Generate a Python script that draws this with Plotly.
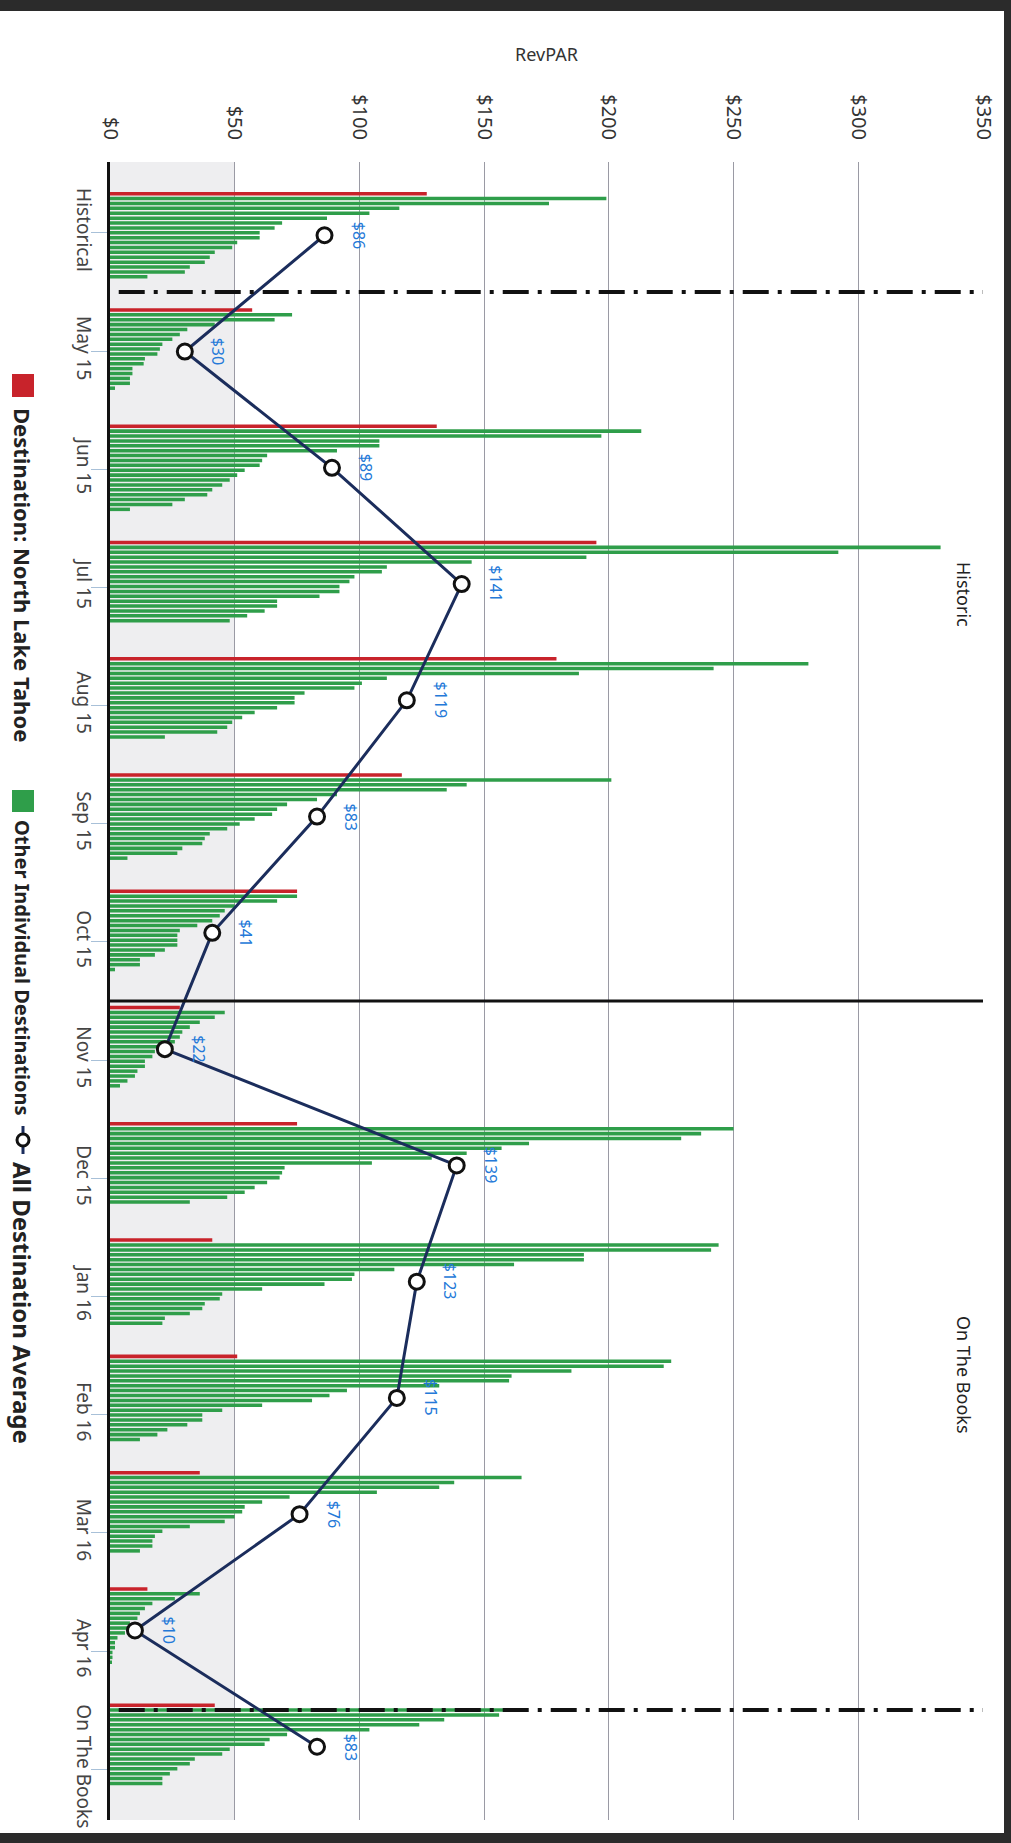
import plotly.graph_objects as go

# RevPAR by month, chart drawn rotated (value axis on top, months running down)
categories = ["Historical", "May 15", "Jun 15", "Jul 15", "Aug 15", "Sep 15", "Oct 15",
              "Nov 15", "Dec 15", "Jan 16", "Feb 16", "Mar 16", "Apr 16", "On The Books"]

north_lake_tahoe = [127, 57, 131, 195, 179, 117, 75, 28, 75, 41, 51, 36, 15, 42]

all_destination_avg = [86, 30, 89, 141, 119, 83, 41, 22, 139, 123, 115, 76, 10, 83]

# other individual destinations, largest first, one list per period
other_historical = [199, 176, 116, 104, 87, 69, 66, 60, 60, 51, 49, 42, 40, 38, 32, 30, 15]
other_may15 = [73, 66, 42, 31, 28, 25, 21, 20, 19, 14, 13.5, 9, 9, 8, 8, 2]
other_jun15 = [213, 197, 108, 108, 91, 63, 61, 60, 54, 51, 48, 45, 41, 39, 30, 25, 8]
other_jul15 = [333, 292, 191, 145, 111, 109, 98, 96, 92, 92, 84, 67, 67, 62, 55, 48]
other_aug15 = [280, 242, 188, 111, 101, 98, 78, 74, 74, 67, 58, 53, 49, 47, 43, 22]
other_sep15 = [201, 143, 135, 91, 83, 71, 67, 65, 58, 52, 47, 40, 38, 37, 29, 27, 7]
other_oct15 = [75, 67, 50, 46, 44, 41, 35, 28, 27, 27, 27, 22, 18, 12, 12, 2]
other_nov15 = [46, 42, 36, 32, 29, 28, 26, 22, 18, 17, 14, 14, 11, 10, 7, 4]
other_dec15 = [250, 237, 229, 168, 157, 143, 129, 105, 70, 69, 68, 63, 58, 54, 47, 32]
other_jan16 = [244, 241, 190, 190, 162, 114, 98, 97, 86, 61, 45, 44, 38, 37, 32, 22, 21]
other_feb16 = [225, 222, 185, 161, 160, 132, 95, 88, 81, 61, 45, 37, 37, 31, 23, 19, 12]
other_mar16 = [165, 138, 132, 107, 72, 61, 54, 53, 50, 46, 32, 21, 18, 17, 17, 12]
other_apr16 = [36, 26, 17, 14, 12, 11, 8, 7, 6, 3, 2, 2, 1, 1, 0.5]
other_otb = [158, 156, 134, 124, 104, 71, 64, 62, 48, 45, 34, 32, 27, 24, 21, 21]

other_groups = [other_historical, other_may15, other_jun15, other_jul15, other_aug15,
                other_sep15, other_oct15, other_nov15, other_dec15, other_jan16,
                other_feb16, other_mar16, other_apr16, other_otb]

value_ticks = [0, 50, 100, 150, 200, 250, 300, 350]

RED = "#c8232b"
GREEN = "#2f9e4a"
NAVY = "#1b2d5c"
LABEL_BLUE = "#2479d8"
FONT = "Noto Sans"

W, H = 1011, 1843
ML, MR, MT, MB = 110, 28, 162, 23
PW, PH = W - ML - MR, H - MT - MB


def px_x(px):
    return (px - ML) / PW


def px_y(py):
    return (H - MB - py) / PH


fig = go.Figure()

fig.add_trace(go.Bar(
    x=north_lake_tahoe, y=categories, orientation="h", yaxis="y2",
    marker=dict(color=RED, line=dict(width=0)), name="Destination: North Lake Tahoe",
))

n_slots = max(len(g) for g in other_groups)
for j in range(n_slots):
    fig.add_trace(go.Bar(
        x=[g[j] if j < len(g) else None for g in other_groups],
        y=categories, orientation="h", yaxis="y2",
        marker=dict(color=GREEN, line=dict(width=0)),
        name="Other Individual Destinations", showlegend=False,
    ))

fig.add_trace(go.Scatter(
    x=all_destination_avg, y=categories, yaxis="y2", mode="lines+markers",
    line=dict(color=NAVY, width=3),
    marker=dict(symbol="circle", size=15, color="white", line=dict(color="#111", width=3)),
    name="All Destination Average",
))

annotations = []
for cat, v in zip(categories, all_destination_avg):
    annotations.append(dict(
        x=v, y=cat, xref="x", yref="y2", text=f"${v}", showarrow=False,
        textangle=90, xshift=34, xanchor="center", yanchor="middle",
        font=dict(family=FONT, size=16, color=LABEL_BLUE),
    ))

annotations += [
    dict(x=px_x(964), y=px_y(594), xref="paper", yref="paper", text="Historic",
         showarrow=False, textangle=90, xanchor="center", yanchor="middle",
         font=dict(family=FONT, size=18, color="#222")),
    dict(x=px_x(964), y=px_y(1375), xref="paper", yref="paper", text="On The Books",
         showarrow=False, textangle=90, xanchor="center", yanchor="middle",
         font=dict(family=FONT, size=18, color="#222")),
]

# hand-built legend, rotated like the rest of the chart
legend_items = [
    ("Destination: North Lake Tahoe", 406, 22),
    ("Other Individual Destinations", 818, 20),
    ("All Destination Average", 1160, 24),
]
for text, top, size in legend_items:
    annotations.append(dict(
        x=px_x(23), y=px_y(top), xref="paper", yref="paper", text=f"<b>{text}</b>",
        showarrow=False, textangle=90, xanchor="center", yanchor="top",
        font=dict(family=FONT, size=size, color="#222"),
    ))

shapes = [
    # light band between $0 and $50
    dict(type="rect", xref="x", yref="paper", x0=0, x1=50, y0=0, y1=1,
         fillcolor="#eeeef0", line=dict(width=0), layer="below"),
    # period separators
    dict(type="line", xref="paper", yref="y", x0=0.01, x1=1, y0=0.5, y1=0.5,
         line=dict(color="#111", width=4, dash="26px,9px,4px,9px")),
    dict(type="line", xref="paper", yref="y", x0=0, x1=1, y0=6.5, y1=6.5,
         line=dict(color="#111", width=3)),
    dict(type="line", xref="paper", yref="y", x0=0.01, x1=1, y0=12.5, y1=12.5,
         line=dict(color="#111", width=4, dash="26px,9px,4px,9px")),
    # legend keys
    dict(type="rect", xref="paper", yref="paper", x0=px_x(12), x1=px_x(34),
         y0=px_y(374), y1=px_y(397), fillcolor=RED, line=dict(width=0)),
    dict(type="rect", xref="paper", yref="paper", x0=px_x(12), x1=px_x(34),
         y0=px_y(790), y1=px_y(812), fillcolor=GREEN, line=dict(width=0)),
    dict(type="line", xref="paper", yref="paper", x0=px_x(23), x1=px_x(23),
         y0=px_y(1126), y1=px_y(1154), line=dict(color=NAVY, width=3)),
    dict(type="circle", xref="paper", yref="paper", x0=px_x(17), x1=px_x(29),
         y0=px_y(1134), y1=px_y(1146), fillcolor="white", line=dict(color="#111", width=3)),
    # dark scan border
    dict(type="rect", xref="paper", yref="paper", x0=px_x(0), x1=px_x(W),
         y0=px_y(11), y1=px_y(0), fillcolor="#2b2b2b", line=dict(width=0)),
    dict(type="rect", xref="paper", yref="paper", x0=px_x(1004), x1=px_x(W),
         y0=px_y(H), y1=px_y(0), fillcolor="#2b2b2b", line=dict(width=0)),
    dict(type="rect", xref="paper", yref="paper", x0=px_x(0), x1=px_x(W),
         y0=px_y(H), y1=px_y(1833), fillcolor="#2b2b2b", line=dict(width=0)),
]

fig.update_layout(
    width=W, height=H, margin=dict(l=ML, r=MR, t=MT, b=MB),
    paper_bgcolor="white", plot_bgcolor="white",
    barmode="group", bargap=0.243, bargroupgap=0.28,
    showlegend=False,
    font=dict(family=FONT, color="#333"),
    xaxis=dict(
        side="top", range=[0, 350], tickvals=value_ticks,
        ticktext=[f"${v}" for v in value_ticks], tickangle=90,
        ticks="outside", ticklen=14, tickcolor="rgba(0,0,0,0)",
        tickfont=dict(family=FONT, size=20, color="#333"),
        showgrid=True, gridcolor="#9a9aa4", gridwidth=1, zeroline=False, showline=False,
        title=dict(text="RevPAR", standoff=27, font=dict(family=FONT, size=18, color="#333")),
    ),
    yaxis=dict(
        type="category", categoryarray=categories, categoryorder="array",
        range=[13.43, -0.60], tickangle=90,
        ticks="outside", ticklen=16, tickcolor="#a8c0d8", tickwidth=1,
        ticklabelstandoff=-9,
        tickfont=dict(family=FONT, size=19, color="#444"),
        showgrid=False, zeroline=False, showline=True, linecolor="#111", linewidth=3,
    ),
    yaxis2=dict(
        type="category", categoryarray=categories, categoryorder="array",
        range=[13.63, -0.63], overlaying="y", visible=False,
    ),
    shapes=shapes, annotations=annotations,
)

fig.write_html(
    "out.html",
    config={"displayModeBar": False},
    post_script="document.body.style.margin='0';document.body.style.overflow='hidden';",
)
